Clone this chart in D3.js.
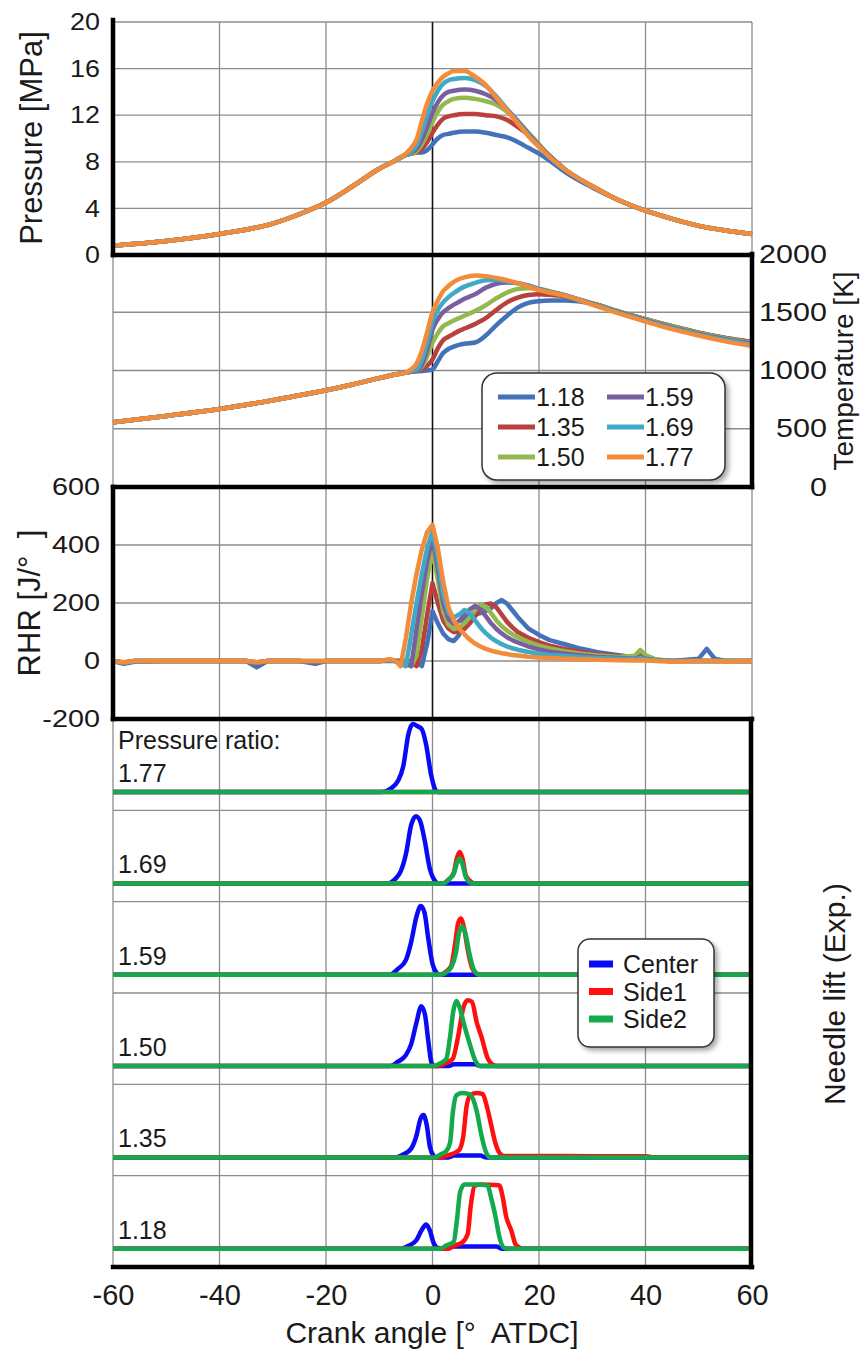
<!DOCTYPE html>
<html>
<head>
<meta charset="utf-8">
<script src="https://cdnjs.cloudflare.com/ajax/libs/d3/7.8.5/d3.min.js"></script>
<style>
body { margin: 0; background: #fff; }
svg text { font-family: "Liberation Sans", Arial, sans-serif; fill: #1a1a1a; white-space: pre; }
</style>
</head>
<body>
<div id="chart"></div>
<script>
// ---------- data ----------
var ratios = ["1.18", "1.35", "1.50", "1.59", "1.69", "1.77"];
var ratioColors = ["#4472b8", "#b9403c", "#93b84e", "#7a5fa0", "#3fa9c6", "#f28b3a"];

// cylinder pressure [MPa]
var pAngles = [-60,-50,-40,-30,-25,-20,-15,-10,-7,-5,-4,-3,-2,-1,0,1,2,3,4,6,8,10,12,14,16,18,20,22,25,30,35,40,45,50,55,60];
var p118 = [0.8,1.2,1.8,2.7,3.5,4.5,5.9,7.4,8.1,8.6, 8.7,8.8,8.8,9.0,9.5,10.0,10.3,10.4,10.5,10.6,10.6,10.5,10.3,10.1,9.7,9.2,8.7,8.1,7.1,5.8,4.7,3.8,3.1,2.5,2.1,1.8];
var p135 = [0.8,1.2,1.8,2.7,3.5,4.5,5.9,7.4,8.1,8.6, 8.7,8.8,9.1,9.7,10.5,11.2,11.7,11.9,12.0,12.1,12.1,12.0,11.9,11.6,11.0,10.3,9.4,8.5,7.3,5.9,4.7,3.8,3.1,2.5,2.1,1.8];
var p150 = [0.8,1.2,1.8,2.7,3.5,4.5,5.9,7.4,8.1,8.6, 8.7,8.9,9.5,10.4,11.4,12.3,12.9,13.2,13.4,13.5,13.4,13.2,12.9,12.3,11.5,10.5,9.5,8.5,7.3,5.9,4.7,3.8,3.1,2.5,2.1,1.8];
var p159 = [0.8,1.2,1.8,2.7,3.5,4.5,5.9,7.4,8.1,8.6, 8.8,9.1,9.9,11.0,12.2,13.1,13.7,14.0,14.1,14.2,14.1,13.8,13.3,12.5,11.5,10.4,9.4,8.5,7.3,5.9,4.7,3.8,3.1,2.5,2.1,1.8];
var p169 = [0.8,1.2,1.8,2.7,3.5,4.5,5.9,7.4,8.1,8.6, 8.9,9.4,10.6,12.0,13.2,14.1,14.7,15.0,15.1,15.2,15.0,14.5,13.6,12.5,11.4,10.3,9.3,8.4,7.3,5.9,4.7,3.8,3.1,2.5,2.1,1.8];
var p177 = [0.8,1.2,1.8,2.7,3.5,4.5,5.9,7.4,8.1,8.7, 9.2,9.9,11.5,13.0,14.1,14.8,15.3,15.6,15.8,15.8,15.3,14.6,13.5,12.4,11.3,10.2,9.3,8.4,7.3,5.9,4.7,3.8,3.1,2.5,2.1,1.8];

// gas temperature [K]
var tAngles = [-60,-50,-40,-30,-20,-15,-10,-7,-5,-4,-3,-2,-1,0,1,2,3,4,5,6,8,10,12,14,16,18,20,22,25,30,35,40,45,50,55,60];
var t118 = [555,610,670,745,830,880,935,965,982, 990,993,995,1000,1010,1080,1150,1185,1205,1220,1230,1240,1300,1390,1470,1540,1580,1595,1600,1600,1575,1505,1440,1380,1325,1280,1245];
var t135 = [555,610,670,745,830,880,935,965,982, 990,995,1010,1040,1095,1190,1260,1290,1315,1340,1360,1400,1450,1520,1585,1625,1648,1655,1650,1635,1575,1505,1440,1380,1325,1280,1245];
var t150 = [555,610,670,745,830,880,935,965,982, 990,998,1030,1120,1240,1320,1380,1405,1430,1450,1470,1510,1560,1620,1670,1700,1705,1700,1680,1645,1575,1505,1440,1378,1322,1276,1240];
var t159 = [555,610,670,745,830,880,935,965,982, 992,1000,1050,1180,1350,1440,1500,1535,1565,1590,1615,1655,1710,1745,1755,1750,1730,1700,1675,1645,1572,1500,1432,1370,1314,1268,1230];
var t169 = [555,610,670,745,830,880,935,965,982, 995,1010,1090,1240,1420,1520,1585,1630,1665,1695,1720,1752,1775,1778,1765,1748,1725,1697,1672,1642,1568,1495,1426,1364,1308,1262,1222];
var t177 = [555,610,670,745,830,880,935,965,982, 1010,1060,1170,1330,1500,1600,1680,1725,1760,1785,1800,1815,1810,1795,1775,1750,1720,1690,1670,1640,1565,1490,1420,1355,1300,1250,1210];

// rate of heat release [J/deg]
var rAngles = [-60,-58,-56,-50,-40,-35,-33,-31,-25,-22,-20,-15,-10,-8,-7,-6,-5,-4,-3,-2,-1,0,1,2,3,4,5,6,7,8,9,10,11,12,13,14,15,16,18,20,22,25,28,31,35,38,39,40,42,45,50,51.5,53,55,60];
var r118 = [0,-10,-3,0,0, 0,-22,0,0,-10, 0,0,0,0,0, 0,0,0,0,-18, 60,172,130,95,75, 69,90,145,155,160, 165,172,182,200,210, 198,175,152,112,90, 72,57,42,30,20, 12,8,5,2,0, 8,42,8,0,0];
var r135 = [0,-6,0,0,0, 0,-8,0,0,-5, 0,0,0,2,0, 0,0,-5,-18,40, 160,269,200,140,112, 100,100,110,130,155, 180,195,198,185,160, 135,116,100,80,65, 53,41,31,23,16, 12,26,14,4,0, 0,0,0,0,0];
var r150 = [0,-5,0,0,0, 0,-6,0,0,-3, 0,0,0,3,0, 0,0,-18,20,150, 285,380,280,170,125, 110,115,130,150,175, 193,188,165,140,120, 105,92,82,66,53, 43,33,25,19,14, 18,38,20,5,0, 0,0,0,0,0];
var r159 = [0,-5,0,0,0, 0,-5,0,0,-4, 0,0,0,3,0, 0,-10,-18,110,235, 345,425,320,200,145, 128,138,158,178,190, 178,155,130,110,95, 82,72,64,50,40, 32,25,19,14,10, 8,14,8,3,0, 0,0,0,0,0];
var r169 = [0,-6,0,0,0, 0,-5,0,0,0, 0,0,0,4,0, -8,-18,90,200,300, 390,448,355,230,165, 150,160,176,165,140, 116,96,80,68,58, 50,44,39,31,25, 21,17,13,10,8, 6,10,6,2,0, 0,0,0,0,0];
var r177 = [0,-4,0,0,0, 0,-4,0,0,0, 0,0,0,6,2, -18,80,200,300,385, 445,469,390,275,185, 140,112,92,74,60, 50,42,36,31,27, 24,21,19,15,12, 10,8,6,4,3, 2,3,2,0,-3, 0,0,0,-2,0];

// needle lift (normalised), one trace per pressure ratio, top panel first
var needleRatios = ["1.77", "1.69", "1.59", "1.50", "1.35", "1.18"];
var needleNames = ["Center", "Side1", "Side2"];
var needleColors = ["#0a0af5", "#ff1010", "#12aa4c"];
var centerLift = [
  [[-60,0],[-9.5,0],[-8,0.04],[-6.5,0.15],[-5.5,0.35],[-4.5,0.8],[-3.7,0.93],[-2.8,0.9],[-2,0.86],[-1.2,0.65],[-0.3,0.25],[0.6,0.02],[1,0],[60,0]],
  [[-60,0],[-8.5,0],[-7,0.06],[-6,0.16],[-5,0.4],[-4,0.8],[-3.1,0.92],[-2.3,0.85],[-1.5,0.6],[-0.5,0.2],[0.5,0.03],[1,0],[60,0]],
  [[-60,0],[-8,0],[-6.5,0.08],[-5,0.2],[-4,0.45],[-3,0.8],[-2.2,0.94],[-1.5,0.85],[-0.8,0.5],[0,0.15],[0.8,0.02],[1.2,0],[60,0]],
  [[-60,0],[-8,0],[-6.5,0.06],[-5,0.15],[-4,0.3],[-3,0.6],[-2.1,0.82],[-1.4,0.7],[-0.8,0.35],[-0.2,0.05],[0.3,0],[3,0],[4,0.025],[8,0.025],[9,0],[60,0]],
  [[-60,0],[-7,0],[-5.5,0.04],[-4,0.12],[-3,0.3],[-2.3,0.52],[-1.7,0.58],[-1.1,0.45],[-0.5,0.15],[0.2,0.02],[0.6,0],[3,0],[4,0.025],[9,0.025],[10,0],[60,0]],
  [[-60,0],[-6,0],[-4.5,0.04],[-3,0.12],[-2,0.26],[-1.2,0.33],[-0.5,0.25],[0.2,0.08],[1,0.01],[2,0],[4,0.03],[12,0.03],[13,0],[60,0]]
];
var side1Lift = [
  [[-60,0],[60,0]],
  [[-60,0],[2,0],[3,0.05],[4,0.15],[4.6,0.35],[5.1,0.43],[5.6,0.35],[6.3,0.1],[7.5,0.01],[8,0],[60,0]],
  [[-60,0],[1.5,0],[2.5,0.04],[3.5,0.12],[4.2,0.4],[4.8,0.7],[5.3,0.77],[5.9,0.65],[6.6,0.35],[7.4,0.1],[8.4,0.01],[9,0],[60,0]],
  [[-60,0],[0.8,0],[2.5,0.04],[3.8,0.1],[4.8,0.4],[5.8,0.8],[6.6,0.9],[7.4,0.88],[8.3,0.6],[9.2,0.4],[10.3,0.12],[11.5,0.01],[12,0],[60,0]],
  [[-60,0],[1.5,0],[3,0.03],[5,0.1],[5.8,0.3],[6.4,0.7],[7.1,0.85],[8.2,0.88],[9.4,0.87],[10.2,0.7],[11,0.45],[11.8,0.2],[12.6,0.06],[13.4,0.02],[25,0.018],[40,0.015],[42,0],[60,0]],
  [[-60,0],[3,0],[4,0.04],[5.5,0.08],[6.6,0.2],[7.2,0.6],[7.9,0.86],[9,0.88],[12.5,0.87],[13.2,0.7],[13.8,0.45],[14.8,0.25],[15.6,0.06],[16.5,0.01],[17,0],[60,0]]
];
var side2Lift = [
  [[-60,0],[60,0]],
  [[-60,0],[2,0],[3,0.05],[4,0.13],[4.6,0.28],[5.1,0.34],[5.6,0.27],[6.3,0.08],[7.5,0],[60,0]],
  [[-60,0],[1.5,0],[2.5,0.03],[3.5,0.1],[4.4,0.3],[5,0.58],[5.6,0.66],[6.2,0.56],[6.9,0.3],[7.7,0.08],[8.7,0],[60,0]],
  [[-60,0],[0,0],[1.5,0.04],[2.6,0.1],[3.3,0.4],[3.9,0.75],[4.5,0.89],[5.1,0.8],[6,0.55],[7,0.3],[8,0.08],[9,0],[60,0]],
  [[-60,0],[0.5,0],[1.5,0.04],[2.5,0.08],[3.3,0.2],[3.8,0.6],[4.5,0.85],[5.5,0.88],[6.8,0.87],[7.6,0.8],[8.4,0.6],[9.2,0.3],[10,0.08],[10.8,0],[60,0]],
  [[-60,0],[1.5,0],[2.5,0.04],[4,0.1],[4.6,0.4],[5.2,0.78],[6,0.88],[8,0.88],[10.3,0.87],[11,0.7],[11.8,0.45],[12.6,0.15],[13.3,0.02],[14,0],[60,0]]
];

var xTicks = [-60, -40, -20, 0, 20, 40, 60];
var pTicks = [0, 4, 8, 12, 16, 20];
var tTicks = [0, 500, 1000, 1500, 2000];
var rTicks = [-200, 0, 200, 400, 600];

// ---------- layout ----------
var svgWidth = 860, svgHeight = 1353;
var left = 113, right = 752;
var pTop = 22, pBottom = 255;
var tTop = 254, tBottom = 487;
var rTop = 487, rBottom = 719;
var nTop = 719, nBottom = 1267;
var subH = (nBottom - nTop) / 6;

var svg = d3.select("#chart").append("svg")
    .attr("width", svgWidth)
    .attr("height", svgHeight);

var defs = svg.append("defs");
defs.append("filter").attr("id", "shadow")
    .attr("x", "-10%").attr("y", "-10%").attr("width", "130%").attr("height", "130%")
    .append("feDropShadow")
    .attr("dx", 3).attr("dy", 3).attr("stdDeviation", 2.5)
    .attr("flood-color", "#000").attr("flood-opacity", 0.35);

var x = d3.scaleLinear().domain([-60, 60]).range([left, right]);
var yP = d3.scaleLinear().domain([0, 20]).range([pBottom, pTop]);
var yT = d3.scaleLinear().domain([0, 2000]).range([tBottom, tTop]);
var yR = d3.scaleLinear().domain([-200, 600]).range([rBottom, rTop]);

// plain hyphen minus, no thousands separator
var plain = d => String(d);

function zip(angles, vals) {
    return angles.map(function (a, i) { return [a, vals[i]]; });
}

function stretch(sel, k) {
    sel.each(function () {
        var w = this.getComputedTextLength();
        d3.select(this).attr("textLength", w * k).attr("lengthAdjust", "spacingAndGlyphs");
    });
}

// grid for one panel
function grid(top, bottom, yScale, yVals, zeroBlack) {
    var g = svg.append("g");
    g.selectAll("line.h")
        .data(yVals)
        .enter().append("line")
        .attr("x1", left).attr("x2", right)
        .attr("y1", d => yScale(d)).attr("y2", d => yScale(d))
        .attr("stroke", "#8c8c8c").attr("stroke-width", 1.3);
    g.selectAll("line.v")
        .data(xTicks)
        .enter().append("line")
        .attr("x1", d => x(d)).attr("x2", d => x(d))
        .attr("y1", top).attr("y2", bottom)
        .attr("stroke", d => (d === 0 && zeroBlack) ? "#111" : "#8c8c8c")
        .attr("stroke-width", d => (d === 0 && zeroBlack) ? 1.6 : 1.3);
}

grid(pTop, pBottom, yP, pTicks, true);
grid(tTop, tBottom, yT, tTicks, true);
grid(rTop, rBottom, yR, rTicks, true);

// needle sub panels
var subScales = needleRatios.map(function (r, i) {
    var top = nTop + i * subH;
    return d3.scaleLinear().domain([-0.25, 1]).range([top + subH, top]);
});
grid(nTop, nBottom, function (d) { return nTop + d * subH; }, [1, 2, 3, 4, 5], false);

// ---------- curves ----------
var pressureSeries = [p118, p135, p150, p159, p169, p177];
var tempSeries = [t118, t135, t150, t159, t169, t177];
var rhrSeries = [r118, r135, r150, r159, r169, r177];

function drawSet(series, angles, yScale, curve) {
    var line = d3.line().x(d => x(d[0])).y(d => yScale(d[1])).curve(curve);
    svg.append("g").selectAll("path")
        .data(series)
        .enter().append("path")
        .attr("d", d => line(zip(angles, d)))
        .attr("fill", "none")
        .attr("stroke", (d, i) => ratioColors[i])
        .attr("stroke-width", 4.5)
        .attr("stroke-linejoin", "round");
}
drawSet(pressureSeries, pAngles, yP, d3.curveMonotoneX);
drawSet(tempSeries, tAngles, yT, d3.curveMonotoneX);
drawSet(rhrSeries, rAngles, yR, d3.curveLinear);

var liftSets = [centerLift, side1Lift, side2Lift];
needleRatios.forEach(function (r, i) {
    var ys = subScales[i];
    var line = d3.line().x(d => x(d[0])).y(d => ys(d[1])).curve(d3.curveMonotoneX);
    liftSets.forEach(function (set, k) {
        svg.append("path")
            .attr("d", line(set[i]))
            .attr("fill", "none")
            .attr("stroke", needleColors[k])
            .attr("stroke-width", 4.5)
            .attr("stroke-linejoin", "round");
    });
    svg.append("text")
        .attr("x", 118)
        .attr("y", nTop + i * subH + 63)
        .attr("font-size", 25)
        .text(r);
});
svg.append("text")
    .attr("x", 118).attr("y", 749)
    .attr("font-size", 25)
    .text("Pressure ratio:");

// ---------- thick frames ----------
var frames = [
    [left, pTop - 2, left, pBottom],
    [left, pBottom, right, pBottom],
    [right, tTop, right, tBottom],
    [left, rTop, right, rTop],
    [left, rTop, left, rBottom],
    [left, rBottom, right, rBottom],
    [right - 1, nTop, right - 1, nBottom],
    [left, nBottom, right, nBottom]
];
svg.append("g").selectAll("line")
    .data(frames)
    .enter().append("line")
    .attr("x1", d => d[0]).attr("y1", d => d[1])
    .attr("x2", d => d[2]).attr("y2", d => d[3])
    .attr("stroke", "#000").attr("stroke-width", 4.5)
    .attr("stroke-linecap", "square");

// ---------- axes ----------
function cleanAxis(g) {
    g.select(".domain").remove();
    g.selectAll("text").attr("fill", "#1a1a1a").attr("font-family", null);
}

var pAxis = svg.append("g")
    .attr("transform", `translate(${left},0)`)
    .call(d3.axisLeft(yP).tickValues(pTicks).tickFormat(plain).tickSize(0).tickPadding(13))
    .call(cleanAxis)
    .attr("font-size", 24);
stretch(pAxis.selectAll("text"), 1.12);

var rAxis = svg.append("g")
    .attr("transform", `translate(${left},0)`)
    .call(d3.axisLeft(yR).tickValues(rTicks).tickFormat(plain).tickSize(0).tickPadding(13))
    .call(cleanAxis)
    .attr("font-size", 24);
stretch(rAxis.selectAll("text"), 1.2);

var tAxis = svg.append("g")
    .attr("transform", `translate(${right},0)`)
    .call(d3.axisRight(yT).tickValues(tTicks).tickFormat(plain).tickSize(0))
    .call(cleanAxis)
    .attr("font-size", 25);
tAxis.selectAll("text").attr("x", 75).attr("text-anchor", "end");
stretch(tAxis.selectAll("text"), 1.22);

svg.append("g")
    .attr("transform", `translate(0,${nBottom})`)
    .call(d3.axisBottom(x).tickValues(xTicks).tickFormat(plain).tickSize(0).tickPadding(17))
    .call(cleanAxis)
    .attr("font-size", 29);

// axis titles
svg.append("text")
    .attr("transform", "translate(42,138) rotate(-90)")
    .attr("text-anchor", "middle").attr("font-size", 31)
    .text("Pressure [MPa]");
svg.append("text")
    .attr("transform", "translate(40,603) rotate(-90)")
    .attr("text-anchor", "middle").attr("font-size", 31)
    .text("RHR [J/°  ]");
svg.append("text")
    .attr("transform", "translate(853,371) rotate(-90)")
    .attr("text-anchor", "middle").attr("font-size", 28)
    .text("Temperature [K]");
svg.append("text")
    .attr("transform", "translate(845,994) rotate(-90)")
    .attr("text-anchor", "middle").attr("font-size", 30)
    .text("Needle lift (Exp.)");
svg.append("text")
    .attr("x", 432).attr("y", 1343)
    .attr("text-anchor", "middle").attr("font-size", 30)
    .text("Crank angle [°  ATDC]");

// ---------- legends ----------
var leg1 = svg.append("g");
leg1.append("rect")
    .attr("x", 482).attr("y", 373).attr("width", 243).attr("height", 107)
    .attr("rx", 15).attr("fill", "#fff").attr("stroke", "#333").attr("stroke-width", 1.5)
    .attr("filter", "url(#shadow)");
var leg1Items = leg1.selectAll("g.item")
    .data(ratios)
    .enter().append("g")
    .attr("transform", (d, i) => `translate(${i < 3 ? 498 : 607},${397 + (i % 3) * 30})`);
leg1Items.append("line")
    .attr("x1", 0).attr("x2", 37)
    .attr("stroke", (d, i) => ratioColors[i]).attr("stroke-width", 5);
leg1Items.append("text")
    .attr("x", 38).attr("dy", "0.36em")
    .attr("font-size", 25)
    .text(d => d);

var leg2 = svg.append("g");
leg2.append("rect")
    .attr("x", 578).attr("y", 939).attr("width", 136).attr("height", 108)
    .attr("rx", 12).attr("fill", "#fff").attr("stroke", "#333").attr("stroke-width", 1.5)
    .attr("filter", "url(#shadow)");
var leg2Items = leg2.selectAll("g.item")
    .data(needleNames)
    .enter().append("g")
    .attr("transform", (d, i) => `translate(589,${964 + i * 27.5})`);
leg2Items.append("line")
    .attr("x1", 0).attr("x2", 24)
    .attr("stroke", (d, i) => needleColors[i]).attr("stroke-width", 7);
leg2Items.append("text")
    .attr("x", 34).attr("dy", "0.36em")
    .attr("font-size", 25)
    .text(d => d);
</script>
</body>
</html>
